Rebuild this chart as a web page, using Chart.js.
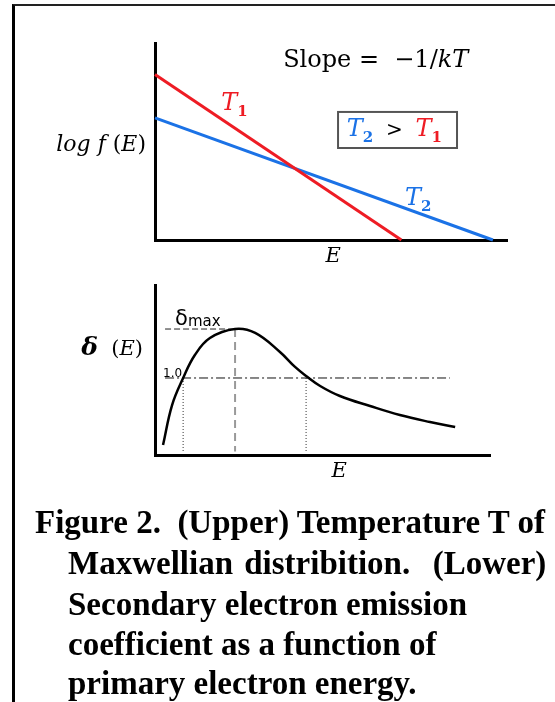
<!DOCTYPE html>
<html>
<head>
<meta charset="utf-8">
<script src="https://cdn.jsdelivr.net/npm/chart.js@4.4.1/dist/chart.umd.min.js"></script>
<style>
html, body { margin: 0; padding: 0; background: #fff; }
body { width: 555px; height: 702px; position: relative; overflow: hidden; }
.frame { position: absolute; left: 12px; top: 4px; width: 560px; height: 720px; border-left: 3px solid #000; border-top: 2px solid #222; }
.panel { position: absolute; left: 0; top: 0; width: 555px; height: 702px; }
.cap { position: absolute; font-family: "Liberation Serif", "Times New Roman", serif; font-weight: bold; font-size: 33px; line-height: 33px; white-space: pre; color: #000; }
</style>
</head>
<body>
<div class="frame"></div>
<div class="panel"><canvas id="upperChart"></canvas></div>
<div class="panel"><canvas id="lowerChart"></canvas></div>
<div class="cap" style="left:35px;top:506px">Figure 2.  (Upper) Temperature T of</div>
<div class="cap" style="left:68px;top:547px;word-spacing:3px">Maxwellian distribition.  (Lower)</div>
<div class="cap" style="left:68px;top:588px">Secondary electron emission</div>
<div class="cap" style="left:68px;top:628px">coefficient as a function of</div>
<div class="cap" style="left:68px;top:667px">primary electron energy.</div>
<script>
// upper panel: log f(E) against E, two straight lines
const t1E = [0, 70];
const t1LogF = [84, 0];
const t2E = [0, 96];
const t2LogF = [62, 0];

// lower panel: secondary emission coefficient delta(E)
const deltaE = [2.4, 5.1, 8.4, 11.9, 16.4, 23.9, 29.9, 37.3, 41.8, 45.1, 49.3, 55.2, 64.2, 73.1, 82.1, 89.6];
const deltaVal = [5.9, 29.4, 45.3, 58.8, 68.8, 74.1, 71.8, 60.6, 51.8, 46.5, 40.6, 34.7, 28.8, 23.5, 19.4, 16.5];
const unityLevel = 45.3;
const deltaMax = 74.1;
const eCross1 = 8.4;
const ePeak = 23.9;
const eCross2 = 45.1;

const RED = '#ee1c24';
const BLUE = '#1b72e6';
const MATH = '"DejaVu Serif", serif';
const SANS = '"DejaVu Sans", sans-serif';

function pts(xs, ys) {
    const out = [];
    for (let i = 0; i < xs.length; i++) out.push({x: xs[i], y: ys[i]});
    return out;
}

// draws a row of text pieces with different fonts one after another
function drawRuns(ctx, x, y, runs, align) {
    let w = 0;
    runs.forEach(r => { ctx.font = r.font; w += ctx.measureText(r.t).width; });
    let cx = align === 'right' ? x - w : (align === 'center' ? x - w / 2 : x);
    ctx.textBaseline = 'alphabetic';
    ctx.textAlign = 'left';
    runs.forEach(r => {
        ctx.font = r.font;
        ctx.fillStyle = r.color || '#000';
        ctx.fillText(r.t, cx, y + (r.dy || 0));
        cx += ctx.measureText(r.t).width;
    });
}

const upperText = {
    id: 'upperText',
    afterDraw(chart) {
        const ctx = chart.ctx, xs = chart.scales.x, ys = chart.scales.y;
        ctx.save();
        drawRuns(ctx, xs.getPixelForValue(36.4), ys.getPixelForValue(87.8), [
            {t: 'Slope =  \u22121/', font: '24px ' + MATH},
            {t: 'kT', font: 'italic 24px ' + MATH}
        ]);
        drawRuns(ctx, xs.getPixelForValue(18.8), ys.getPixelForValue(66), [
            {t: 'T', font: 'italic 24px ' + MATH, color: RED},
            {t: '1', font: 'bold 15px ' + MATH, color: RED, dy: 6}
        ]);
        drawRuns(ctx, xs.getPixelForValue(71), ys.getPixelForValue(18), [
            {t: 'T', font: 'italic 24px ' + MATH, color: BLUE},
            {t: '2', font: 'bold 15px ' + MATH, color: BLUE, dy: 6}
        ]);
        // boxed T2 > T1
        const bx1 = xs.getPixelForValue(52), bx2 = xs.getPixelForValue(85.8);
        const by1 = ys.getPixelForValue(65), by2 = ys.getPixelForValue(46.7);
        ctx.strokeStyle = '#555';
        ctx.lineWidth = 2;
        ctx.strokeRect(bx1, by1, bx2 - bx1, by2 - by1);
        drawRuns(ctx, xs.getPixelForValue(54.5), ys.getPixelForValue(53), [
            {t: 'T', font: 'italic 24px ' + MATH, color: BLUE},
            {t: '2', font: 'bold 15px ' + MATH, color: BLUE, dy: 6},
            {t: '  >  ', font: '20px ' + MATH, color: '#000'},
            {t: 'T', font: 'italic 24px ' + MATH, color: RED},
            {t: '1', font: 'bold 15px ' + MATH, color: RED, dy: 6}
        ]);
        drawRuns(ctx, xs.left - 9, ys.getPixelForValue(45), [
            {t: 'log', font: 'italic 22px ' + MATH},
            {t: ' f ', font: 'italic 22px ' + MATH},
            {t: '(', font: '22px ' + MATH},
            {t: 'E', font: 'italic 22px ' + MATH},
            {t: ')', font: '22px ' + MATH}
        ], 'right');
        drawRuns(ctx, xs.getPixelForValue(50.6), ys.bottom + 22, [
            {t: 'E', font: 'italic 21px ' + MATH}
        ], 'center');
        ctx.restore();
    }
};

const lowerText = {
    id: 'lowerText',
    afterDraw(chart) {
        const ctx = chart.ctx, xs = chart.scales.x, ys = chart.scales.y;
        ctx.save();
        drawRuns(ctx, xs.getPixelForValue(6), ys.getPixelForValue(76.5), [
            {t: '\u03b4', font: '21px ' + SANS},
            {t: 'max', font: '15px ' + SANS, dy: 1}
        ]);
        drawRuns(ctx, xs.getPixelForValue(2.4), ys.getPixelForValue(46), [
            {t: '1.0', font: '12px ' + SANS}
        ]);
        drawRuns(ctx, xs.left - 12, ys.getPixelForValue(59), [
            {t: '\u03b4', font: 'bold italic 25px ' + MATH},
            {t: '  (', font: '21px ' + MATH},
            {t: 'E', font: 'italic 21px ' + MATH},
            {t: ')', font: '21px ' + MATH}
        ], 'right');
        drawRuns(ctx, xs.getPixelForValue(55), ys.bottom + 22, [
            {t: 'E', font: 'italic 21px ' + MATH}
        ], 'center');
        ctx.restore();
    }
};

function axisOpts(min, max) {
    return {
        type: 'linear', min: min, max: max,
        ticks: {display: false},
        grid: {display: false, drawTicks: false},
        border: {display: true, color: '#000', width: 3}
    };
}

new Chart(document.getElementById('upperChart'), {
    type: 'line',
    data: {
        datasets: [
            {data: pts(t1E, t1LogF), borderColor: RED, borderWidth: 3, pointRadius: 0, clip: false},
            {data: pts(t2E, t2LogF), borderColor: BLUE, borderWidth: 3, pointRadius: 0, clip: false}
        ]
    },
    options: {
        responsive: true,
        maintainAspectRatio: false,
        animation: false,
        layout: {padding: {left: 155, top: 43, right: 48, bottom: 462}},
        plugins: {legend: {display: false}, tooltip: {enabled: false}},
        scales: {x: axisOpts(0, 100), y: axisOpts(0, 100)}
    },
    plugins: [upperText]
});

new Chart(document.getElementById('lowerChart'), {
    type: 'line',
    data: {
        datasets: [
            {data: pts(deltaE, deltaVal), borderColor: '#000', borderWidth: 2.5, pointRadius: 0,
             tension: 0.4, clip: false},
            {data: [{x: 3, y: unityLevel}, {x: 88, y: unityLevel}], borderColor: '#111', borderWidth: 1,
             borderDash: [9, 3, 2, 3], pointRadius: 0},
            {data: [{x: 3, y: deltaMax}, {x: ePeak, y: deltaMax}], borderColor: '#222', borderWidth: 1,
             borderDash: [6, 3], pointRadius: 0},
            {data: [{x: ePeak, y: deltaMax}, {x: ePeak, y: 2}], borderColor: '#999', borderWidth: 2,
             borderDash: [8, 5], pointRadius: 0},
            {data: [{x: eCross1, y: unityLevel}, {x: eCross1, y: 2}], borderColor: '#333', borderWidth: 1,
             borderDash: [1, 2], pointRadius: 0},
            {data: [{x: eCross2, y: unityLevel}, {x: eCross2, y: 2}], borderColor: '#333', borderWidth: 1,
             borderDash: [1, 2], pointRadius: 0}
        ]
    },
    options: {
        responsive: true,
        maintainAspectRatio: false,
        animation: false,
        layout: {padding: {left: 155, top: 285, right: 65, bottom: 247}},
        plugins: {legend: {display: false}, tooltip: {enabled: false}},
        scales: {x: axisOpts(0, 100), y: axisOpts(0, 100)}
    },
    plugins: [lowerText]
});
</script>
</body>
</html>
